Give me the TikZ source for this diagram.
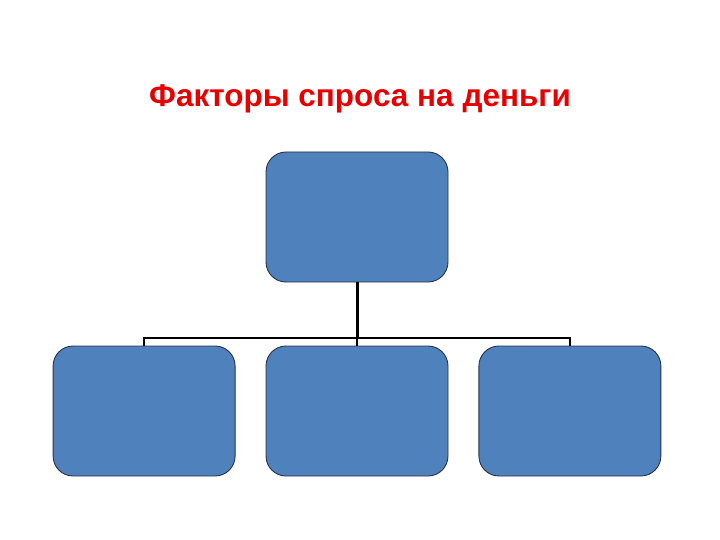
\documentclass[tikz,border=0pt]{standalone}
\usepackage{fontspec}
\setmainfont{Liberation Sans}
\usetikzlibrary{positioning}
\usetikzlibrary{calc}
\definecolor{boxblue}{RGB}{79,129,189}
\definecolor{boxline}{RGB}{40,50,70}
\definecolor{titlered}{RGB}{230,0,0}
\tikzset{
  factor/.style={draw=boxline, line width=0.9pt, fill=boxblue, rounded corners=20pt,
    minimum width=182pt, minimum height=130pt, inner sep=0pt},
  link/.style={line width=2.1pt, black}
}

\begin{document}
\begin{tikzpicture}[x=1pt,y=-1pt]
\useasboundingbox (0,0) rectangle (720,540);
% Title
\node[text=titlered, font=\fontsize{31.5}{36}\selectfont\bfseries] (title) at (360,99) {Факторы спроса на деньги};
% Boxes
\node[factor] (top) at (357,217) {};
\node[factor] (mid) at (357,411) {};
\node[factor, left=30pt of mid] (left) {};
\node[factor, right=30pt of mid] (right) {};
% Connectors
\coordinate (bus) at (357,338);
\draw [link, line width=3pt] (top) -- (bus);
\draw [link] (left.north) -- (left.north |- bus) -- (right.north |- bus) -- (right.north);
\draw [link] (bus) -- (mid);
\end{tikzpicture}
\end{document}
